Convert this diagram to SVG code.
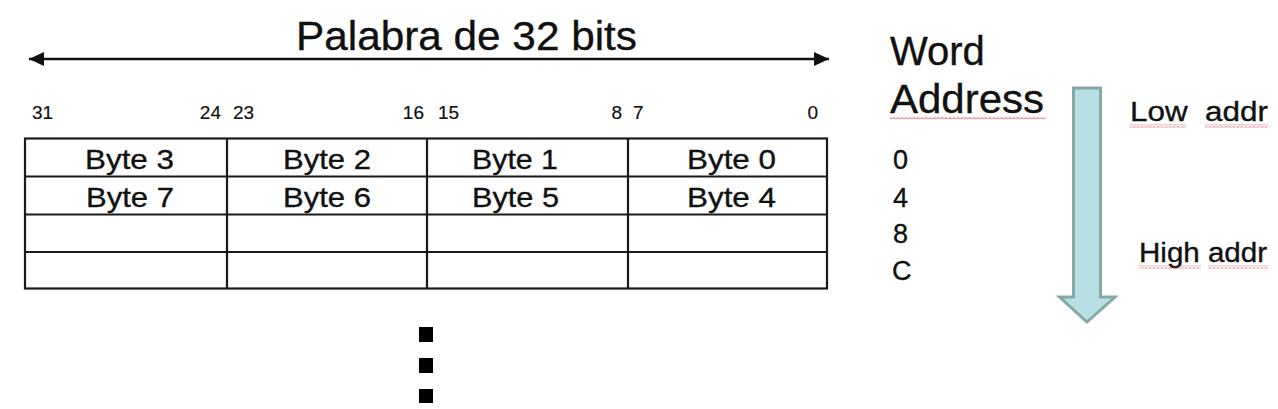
<svg xmlns="http://www.w3.org/2000/svg" width="1278" height="409" viewBox="0 0 1278 409">
<defs>
<style>
text{font-family:"Liberation Sans",Arial,sans-serif;fill:#111;stroke:#111;stroke-width:0.35}
.title{font-size:40px}
.bit{font-size:19px;stroke-width:0.2}
.byte{font-size:28px}
.addr{font-size:27px}
.big{font-size:40px}
.side{font-size:27px}
.grid{fill:none;stroke:#1a1a1a;stroke-width:2.2}
.dot{fill:#000}
</style>
<marker id="ah" viewBox="0 0 15 14" refX="15" refY="7" markerWidth="15" markerHeight="14" markerUnits="userSpaceOnUse" orient="auto-start-reverse">
<path d="M0,0 L15,7 L0,14 Z" fill="#111"/>
</marker>
<pattern id="squig" x="0" y="0" width="4" height="3" patternUnits="userSpaceOnUse">
<polyline points="0,2.5 2,0.5 4,2.5" fill="none" stroke="#d9485a" stroke-width="1"/>
</pattern>
</defs>
<rect width="1278" height="409" fill="#ffffff"/>

<g id="title">
<text class="title" x="296" y="50" textLength="341" lengthAdjust="spacingAndGlyphs">Palabra de 32 bits</text>
</g>

<g id="connectors">
<line x1="29" y1="59" x2="829" y2="59" stroke="#111" stroke-width="2.5" marker-start="url(#ah)" marker-end="url(#ah)"/>
</g>

<g id="bit-labels">
<text class="bit" x="32" y="119">31</text>
<text class="bit" x="221" y="119" text-anchor="end">24</text>
<text class="bit" x="233" y="119">23</text>
<text class="bit" x="424" y="119" text-anchor="end">16</text>
<text class="bit" x="438" y="119">15</text>
<text class="bit" x="622" y="119" text-anchor="end">8</text>
<text class="bit" x="633" y="119">7</text>
<text class="bit" x="818" y="119" text-anchor="end">0</text>
</g>

<g id="memory-table">
<rect class="grid" x="25" y="138.5" width="802" height="150"/>
<line class="grid" x1="25" y1="176.5" x2="827" y2="176.5"/>
<line class="grid" x1="25" y1="214.5" x2="827" y2="214.5"/>
<line class="grid" x1="25" y1="252" x2="827" y2="252"/>
<line class="grid" x1="227" y1="138.5" x2="227" y2="288.5"/>
<line class="grid" x1="427" y1="138.5" x2="427" y2="288.5"/>
<line class="grid" x1="628" y1="138.5" x2="628" y2="288.5"/>
</g>

<g id="row-0">
<text class="byte" x="85" y="169" textLength="89" lengthAdjust="spacingAndGlyphs">Byte 3</text>
<text class="byte" x="283" y="169" textLength="88" lengthAdjust="spacingAndGlyphs">Byte 2</text>
<text class="byte" x="472" y="169" textLength="86" lengthAdjust="spacingAndGlyphs">Byte 1</text>
<text class="byte" x="687" y="169" textLength="89" lengthAdjust="spacingAndGlyphs">Byte 0</text>
</g>
<g id="row-4">
<text class="byte" x="86" y="207" textLength="88" lengthAdjust="spacingAndGlyphs">Byte 7</text>
<text class="byte" x="283" y="207" textLength="88" lengthAdjust="spacingAndGlyphs">Byte 6</text>
<text class="byte" x="472" y="207" textLength="87" lengthAdjust="spacingAndGlyphs">Byte 5</text>
<text class="byte" x="687" y="207" textLength="89" lengthAdjust="spacingAndGlyphs">Byte 4</text>
</g>

<g id="ellipsis">
<rect class="dot" x="419" y="327" width="14" height="15"/>
<rect class="dot" x="419" y="358" width="14" height="15"/>
<rect class="dot" x="419" y="389" width="14" height="14"/>
</g>

<g id="word-address-header">
<text class="big" x="890" y="65">Word</text>
<text class="big" x="890" y="113" textLength="154" lengthAdjust="spacingAndGlyphs">Address</text>
<rect x="890" y="116.5" width="156" height="3" fill="url(#squig)"/>
</g>

<g id="address-values">
<text class="addr" x="893" y="169">0</text>
<text class="addr" x="893" y="207">4</text>
<text class="addr" x="893" y="243">8</text>
<text class="addr" x="892" y="280">C</text>
</g>

<g id="direction-arrow">
<polygon points="1073.5,88 1100.5,88 1100.5,297 1115,297 1087,322 1059.5,297 1073.5,297" fill="#b7dfe4" stroke="#86a8a9" stroke-width="3" stroke-linejoin="miter"/>
</g>

<g id="low-addr">
<text class="side" x="1130" y="121" textLength="138" lengthAdjust="spacingAndGlyphs" xml:space="preserve">Low  addr</text>
<rect x="1130" y="124.5" width="56" height="3" fill="url(#squig)"/>
<rect x="1205" y="124.5" width="63" height="3" fill="url(#squig)"/>
</g>

<g id="high-addr">
<text class="side" x="1139" y="262" textLength="128" lengthAdjust="spacingAndGlyphs">High addr</text>
<rect x="1139" y="265.5" width="62" height="3" fill="url(#squig)"/>
<rect x="1208" y="265.5" width="60" height="3" fill="url(#squig)"/>
</g>
</svg>
